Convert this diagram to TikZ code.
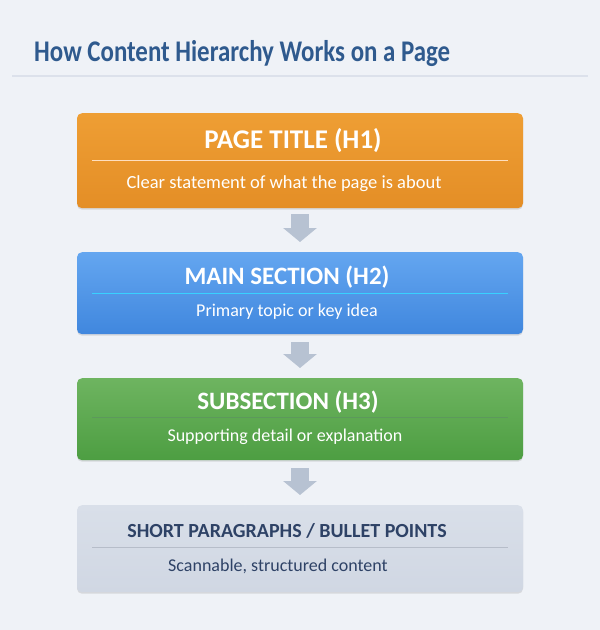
\documentclass[tikz,border=0pt]{standalone}
\usepackage{fontspec}
\setmainfont{Carlito}
\usetikzlibrary{arrows.meta,shadows}
\definecolor{bgc}{HTML}{EFF2F7}
\definecolor{titlec}{HTML}{2F5A8E}
\definecolor{rulec}{HTML}{DCE1EB}
\definecolor{arrc}{HTML}{B7C2D2}
\definecolor{navy}{HTML}{2E4266}
\tikzset{
  box/.style={rounded corners=5pt, minimum width=446pt, anchor=north, inner sep=0pt,
    drop shadow={shadow xshift=0pt, shadow yshift=-1.5pt, opacity=0.18, fill=black!60}},
  headtext/.style={font=\fontsize{25}{28}\selectfont\bfseries, anchor=base},
  subtext/.style={font=\fontsize{18}{21}\selectfont, anchor=base},
  flowarrow/.style={draw=arrc, line width=18pt, -{Triangle[width=33pt,length=14pt]}},
  divider/.style={line width=0.8pt},
}
\begin{document}
\begin{tikzpicture}[x=1pt,y=-1pt]
\useasboundingbox[fill=bgc] (0,0) rectangle (600,630);
\node[font=\fontsize{30}{34}\selectfont\bfseries, text=titlec, anchor=base west, inner sep=0pt] (title) at (34,61) {\scalebox{0.83}[1]{How Content Hierarchy Works on a Page}};
\draw[rulec, line width=1.2pt] (12,76) coordinate (r1) -- (588,76) coordinate (r2);

% boxes
\node[box, minimum height=95pt, top color={rgb,255:red,238;green,158;blue,52}, bottom color={rgb,255:red,228;green,142;blue,38}] (b1) at (300,113) {};
\node[box, minimum height=82pt, top color={rgb,255:red,100;green,166;blue,240}, bottom color={rgb,255:red,64;green,135;blue,222}] (b2) at (300,252) {};
\node[box, minimum height=82pt, top color={rgb,255:red,110;green,180;blue,96}, bottom color={rgb,255:red,77;green,158;blue,66}] (b3) at (300,378) {};
\node[box, minimum height=87pt, top color={rgb,255:red,217;green,223;blue,233}, bottom color={rgb,255:red,208;green,215;blue,227}] (b4) at (300,505) {};

% texts box1
\node[headtext, text=white, font=\fontsize{27}{30}\selectfont\bfseries] (h1) at (293,148) {PAGE TITLE (H1)};
\draw[divider, white!75!orange] (92,160) coordinate (d1a) -- (508,160) coordinate (d1b);
\node[subtext, text=white, font=\fontsize{18.5}{21}\selectfont] (s1) at (284,188) {Clear statement of what the page is about};

% box2
\node[headtext, text=white] (h2) at (287,284) {MAIN SECTION (H2)};
\draw[divider, white!55!blue!40!cyan] (92,293) coordinate (d2a) -- (508,293) coordinate (d2b);
\node[subtext, text=white] (s2) at (287,316) {Primary topic or key idea};

% box3
\node[headtext, text=white] (h3) at (288,409) {SUBSECTION (H3)};
\draw[divider, white!60!green!60!black] (92,417) coordinate (d3a) -- (508,417) coordinate (d3b);
\node[subtext, text=white] (s3) at (285,441) {Supporting detail or explanation};

% box4
\node[headtext, text=navy, font=\fontsize{20}{23}\selectfont\bfseries] (h4) at (287,537) {SHORT PARAGRAPHS / BULLET POINTS};
\draw[divider, navy!35!white] (92,547) coordinate (d4a) -- (508,547) coordinate (d4b);
\node[subtext, text=navy] (s4) at (278,571) {Scannable, structured content};

% arrows
\draw[flowarrow] ([yshift=-6pt]b1.south) -- ([yshift=10pt]b2.north);
\draw[flowarrow] ([yshift=-8pt]b2.south) -- ([yshift=10pt]b3.north);
\draw[flowarrow] ([yshift=-8pt]b3.south) -- ([yshift=10pt]b4.north);
\end{tikzpicture}
\end{document}
